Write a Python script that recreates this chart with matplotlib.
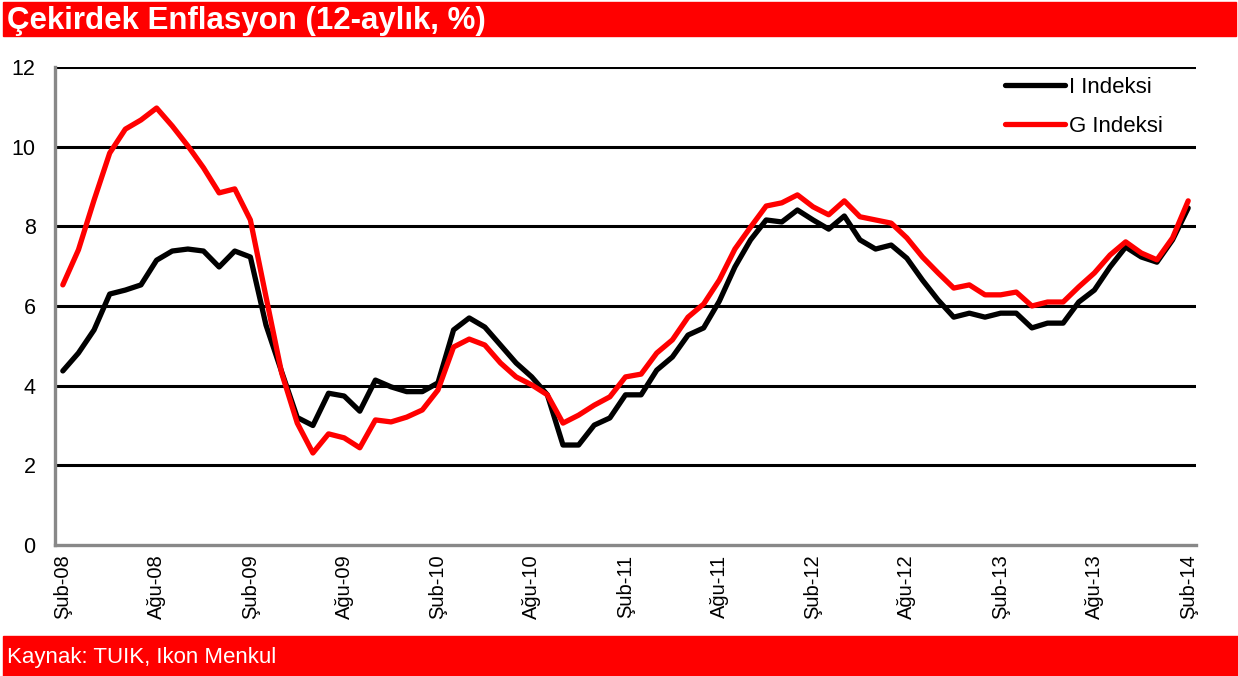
import matplotlib
matplotlib.use('Agg')
import matplotlib.pyplot as plt
from matplotlib.patches import Rectangle

plt.rcParams['font.family'] = ['Liberation Sans', 'DejaVu Sans']

# Monthly data, Feb 2008 - Feb 2014
i_index = [4.37, 4.82, 5.40, 6.30, 6.40, 6.53, 7.15, 7.38, 7.43, 7.38, 6.98, 7.38, 7.23,
           5.52, 4.35, 3.20, 3.00, 3.81, 3.74, 3.36, 4.14, 3.97, 3.85, 3.85, 4.07,
           5.40, 5.70, 5.47, 5.02, 4.57, 4.22, 3.77, 2.51, 2.51, 3.01, 3.19, 3.77,
           3.77, 4.39, 4.72, 5.27, 5.45, 6.12, 6.98, 7.66, 8.16, 8.11, 8.41, 8.16,
           7.93, 8.26, 7.66, 7.43, 7.53, 7.20, 6.65, 6.15, 5.72, 5.82, 5.72, 5.82,
           5.82, 5.45, 5.57, 5.57, 6.10, 6.40, 6.98, 7.48, 7.23, 7.10, 7.66, 8.46]
g_index = [6.53, 7.41, 8.66, 9.84, 10.44, 10.67, 10.97, 10.52, 10.02, 9.47, 8.84, 8.94, 8.16,
           6.23, 4.32, 3.06, 2.31, 2.79, 2.69, 2.44, 3.14, 3.09, 3.21, 3.39, 3.89,
           4.97, 5.17, 5.02, 4.57, 4.22, 4.02, 3.77, 3.06, 3.26, 3.51, 3.72, 4.22,
           4.29, 4.82, 5.15, 5.72, 6.05, 6.65, 7.43, 7.98, 8.51, 8.59, 8.79, 8.49,
           8.29, 8.64, 8.24, 8.16, 8.08, 7.71, 7.23, 6.83, 6.45, 6.53, 6.28, 6.28,
           6.35, 6.00, 6.10, 6.10, 6.48, 6.83, 7.28, 7.61, 7.33, 7.16, 7.71, 8.64]

tick_labels = ['Şub-08', 'Ağu-08', 'Şub-09', 'Ağu-09', 'Şub-10', 'Ağu-10', 'Şub-11',
               'Ağu-11', 'Şub-12', 'Ağu-12', 'Şub-13', 'Ağu-13', 'Şub-14']
y_ticks = [0, 2, 4, 6, 8, 10, 12]

W, H = 1238, 676
fig = plt.figure(figsize=(W / 100, H / 100), dpi=100)

# header and footer bars
fig.patches.append(Rectangle((3 / W, 1 - 36 / H), (W - 5) / W, 34 / H,
                             transform=fig.transFigure, color='#ff0000', zorder=0))
fig.patches.append(Rectangle((3 / W, 0), (W - 3) / W, 40 / H,
                             transform=fig.transFigure, color='#ff0000', zorder=0))
fig.text(7 / W, 1 - 21 / H, 'Çekirdek Enflasyon (12-aylık, %)', color='white',
         fontsize=22.5, fontweight='bold', va='center', ha='left')
fig.text(7 / W, 1 - 658 / H, 'Kaynak: TUIK, Ikon Menkul', color='white',
         fontsize=16, va='center', ha='left')

ax = fig.add_axes([55 / W, 1 - 545 / H, (1196 - 55) / W, (545 - 67) / H])

x = list(range(len(i_index)))
ax.plot(x, i_index, color='black', lw=3.8, label='I Indeksi', zorder=3,
        solid_joinstyle='round', solid_capstyle='round')
ax.plot(x, g_index, color='#ff0000', lw=3.8, label='G Indeksi', zorder=4,
        solid_joinstyle='round', solid_capstyle='round')

ax.set_xlim(-0.5, len(x) - 0.5)
ax.set_ylim(0, 12)
ax.set_yticks(y_ticks)
ax.set_xticks(range(0, len(x), 6))
ax.set_xticklabels(tick_labels, rotation=90, fontsize=14.5)
ax.tick_params(axis='y', labelsize=15.5, length=0, pad=14)
ax.tick_params(axis='x', length=0, pad=7)

for yv in y_ticks[1:]:
    ax.axhline(yv, color='black', lw=2.2, zorder=1)

for s in ['top', 'right']:
    ax.spines[s].set_visible(False)
for s in ['left', 'bottom']:
    ax.spines[s].set_color('#888888')
    ax.spines[s].set_linewidth(2.4)

ax.legend(loc='upper left', bbox_to_anchor=(1005 / W, 1 - 77 / H),
          bbox_transform=fig.transFigure, frameon=False, fontsize=16,
          handlelength=2.7, handletextpad=0.2, labelspacing=0.8,
          borderpad=0, borderaxespad=0)

fig.savefig('out.png', dpi=100)
